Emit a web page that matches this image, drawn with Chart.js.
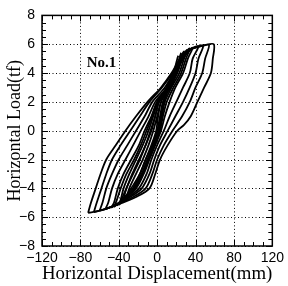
<!DOCTYPE html>
<html>
<head>
<meta charset="utf-8">
<script src="https://cdn.jsdelivr.net/npm/chart.js@4/dist/chart.umd.min.js"></script>
<style>
  html, body { margin: 0; padding: 0; background: #fff; }
  #wrap { width: 288px; height: 286px; }
</style>
</head>
<body>
<div id="wrap"><canvas id="chart" width="288" height="286"></canvas></div>
<script>
// axis ranges and tick labels
var xTicks = [-120, -80, -40, 0, 40, 80, 120];
var yTicks = [-8, -6, -4, -2, 0, 2, 4, 6, 8];

// hysteresis loops, [displacement(mm), load(tf)], smallest to largest
var loop1 = [[-36,-5],[-32,-4],[-25,-3],[-18,-2],[-12,-1],[-6,0],[-2,1],[2,2],[14,3],[20,4],[23,5],[25,5.4],
  [23,5],[19,4],[12,3],[6,2],[3,1],[0,0],[-5,-1],[-12,-2],[-18,-3],[-27,-4],[-33,-4.6],[-36,-5]];
var loop1b = [[-33,-4.9],[-29,-4],[-22,-3],[-15,-2],[-9,-1],[-4,0],[0,1],[4,2],[13,3],[18,4],[21,5],[22,5.2],
  [21,5],[17,4],[10,3],[4,2],[1,1],[-1,0],[-6,-1],[-12,-2],[-18,-3],[-25,-4],[-30,-4.5],[-33,-4.9]];
var loop2 = [[-42,-5.2],[-39,-5],[-35,-4],[-29,-3],[-22,-2],[-15,-1],[-9,0],[-4,1],[1,2],[13,3],[20,4],[26,5],[31,5.6],
  [28,5],[23,4],[15,3],[8,2],[5,1],[2,0],[-3,-1],[-10,-2],[-16,-3],[-25,-4],[-36,-4.75],[-42,-5.2]];
var loop2b = [[-39,-5.1],[-36,-4.6],[-32,-4],[-26,-3],[-19,-2],[-12,-1],[-7,0],[-2,1],[2,2],[12,3],[19,4],[24,5],[28,5.5],
  [26,5],[21,4],[13,3],[7,2],[4,1],[1,0],[-4,-1],[-10,-2],[-16,-3],[-24,-4],[-34,-4.7],[-39,-5.1]];
var loop3 = [[-48,-5.35],[-45,-5],[-41,-4],[-35,-3],[-27,-2],[-19,-1],[-13,0],[-6,1],[0,2],[12,3],[19,4],[27,5],[33,5.55],[37,5.75],
  [32,5],[27,4],[19,3],[13,2],[8,1],[4,0],[-2,-1],[-8,-2],[-14,-3],[-22,-4],[-34,-4.7],[-48,-5.35]];
var loop3b = [[-45,-5.3],[-42,-4.8],[-38,-4],[-32,-3],[-24,-2],[-17,-1],[-11,0],[-5,1],[0,2],[11,3],[18,4],[25,5],[30,5.5],[34,5.7],
  [30,5],[25,4],[17,3],[10,2],[6,1],[3,0],[-3,-1],[-9,-2],[-15,-3],[-23,-4],[-34,-4.7],[-45,-5.3]];
var loop4 = [[-54,-5.45],[-51,-5],[-47,-4],[-41,-3],[-33,-2],[-25,-1],[-17,0],[-9,1],[-2,2],[10,3],[18,4],[27,5],[35,5.65],[43,5.85],
  [37,5],[34,4],[27,3],[20,2],[13,1],[7,0],[0,-1],[-6,-2],[-11,-3],[-19,-4],[-31,-4.65],[-43,-5.15],[-54,-5.45]];
var loop5 = [[-60,-5.55],[-57,-5],[-53,-4],[-47,-3],[-40,-2],[-31,-1],[-22,0],[-13,1],[-5,2],[8,3],[17,4],[26,5],[34,5.6],[41,5.8],[48,5.9],
  [43,5],[40,4],[34,3],[27,2],[19,1],[11,0],[3,-1],[-3,-2],[-8,-3],[-16,-4],[-28,-4.6],[-42,-5.1],[-52,-5.4],[-60,-5.55]];
var loop6 = [[-66,-5.65],[-63,-5],[-58,-4],[-53,-3],[-47,-2],[-38,-1],[-28,0],[-18,1],[-8,2],[5,3],[16,4],[25,5],[35,5.65],[45,5.85],[54,5.95],
  [50,5],[47,4],[40,3],[34,2],[26,1],[16,0],[7,-1],[0,-2],[-5,-3],[-12,-4],[-25,-4.6],[-41,-5.1],[-55,-5.45],[-66,-5.65]];
var loop7 = [[-72,-5.7],[-69,-5],[-64,-4],[-59,-3],[-53,-2],[-43,-1],[-33,0],[-22,1],[-10,2],[4,3],[15,4],[24,5],[36,5.7],[48,5.9],[59,6],
  [58,5],[56,4],[49,3],[42,2],[35,1],[28,0.4],[21,0],[11,-1],[3,-2],[-2,-3],[-8,-4],[-22,-4.6],[-40,-5.1],[-57,-5.5],[-72,-5.7]];

var loops = [loop1, loop1b, loop2, loop2b, loop3, loop3b, loop4, loop5, loop6, loop7];
var specimen = "No.1";

function toPoints(arr) {
  return arr.map(function (p) { return { x: p[0], y: p[1] }; });
}

function minus(v) {
  return v < 0 ? "\u2212" + Math.abs(v) : String(v);
}

/**
 * Dotted grid behind the loops.
 */
var gridPlugin = {
  id: "dotgrid",
  beforeDatasetsDraw: function (chart) {
    var ctx = chart.ctx;
    var a = chart.chartArea;
    var xs = chart.scales.x;
    var ys = chart.scales.y;
    ctx.save();
    ctx.strokeStyle = "#000";
    ctx.lineWidth = 1;
    ctx.setLineDash([1, 2.5]);
    ctx.beginPath();
    xTicks.forEach(function (v) {
      var px = Math.round(xs.getPixelForValue(v)) + 0.5;
      ctx.moveTo(px, a.top); ctx.lineTo(px, a.bottom);
    });
    yTicks.forEach(function (v) {
      var py = Math.round(ys.getPixelForValue(v)) + 0.5;
      ctx.moveTo(a.left, py); ctx.lineTo(a.right, py);
    });
    ctx.stroke();
    ctx.restore();
  }
};

/**
 * Draws the closed frame, inward ticks on all sides and the specimen label.
 */
var framePlugin = {
  id: "frame",
  afterDraw: function (chart) {
    var ctx = chart.ctx;
    var a = chart.chartArea;
    var xs = chart.scales.x;
    var ys = chart.scales.y;
    ctx.save();
    ctx.strokeStyle = "#000";
    ctx.lineWidth = 1;
    ctx.beginPath();
    var v, px, len;
    for (v = -120; v <= 120; v += 10) {
      px = Math.round(xs.getPixelForValue(v)) + 0.5;
      len = (v % 40 === 0) ? 6 : 4;
      ctx.moveTo(px, a.bottom); ctx.lineTo(px, a.bottom - len);
      ctx.moveTo(px, a.top); ctx.lineTo(px, a.top + len);
    }
    for (v = -8; v <= 8; v += 0.5) {
      px = Math.round(ys.getPixelForValue(v)) + 0.5;
      len = (v % 2 === 0) ? 6 : 4;
      ctx.moveTo(a.left, px); ctx.lineTo(a.left + len, px);
      ctx.moveTo(a.right, px); ctx.lineTo(a.right - len, px);
    }
    ctx.stroke();
    ctx.lineWidth = 1.5;
    ctx.strokeRect(a.left, a.top, a.right - a.left, a.bottom - a.top);
    ctx.fillStyle = "#000";
    ctx.font = "bold 15px 'Liberation Serif'";
    ctx.textAlign = "center";
    ctx.textBaseline = "middle";
    ctx.fillText(specimen, xs.getPixelForValue(-58), ys.getPixelForValue(4.7));
    ctx.restore();
  }
};

var datasets = loops.map(function (l) {
  return {
    data: toPoints(l),
    showLine: true,
    borderColor: "#000",
    borderWidth: 1.8,
    pointRadius: 0,
    tension: 0.3,
    fill: false
  };
});

var chart = new Chart(document.getElementById("chart"), {
  type: "scatter",
  data: { datasets: datasets },
  options: {
    responsive: false,
    animation: false,
    events: [],
    layout: { padding: { top: 12, right: 12, left: 0, bottom: 0 } },
    plugins: { legend: { display: false }, tooltip: { enabled: false } },
    scales: {
      x: {
        type: "linear",
        min: -120,
        max: 120,
        afterBuildTicks: function (s) { s.ticks = xTicks.map(function (v) { return { value: v }; }); },
        afterFit: function (s) { s.height = 40; },
        grid: { display: false, drawTicks: false },
        border: { display: false },
        ticks: {
          color: "#000",
          padding: 4,
          maxRotation: 0,
          font: { family: "'Liberation Sans'", size: 14 },
          callback: function (v) { return minus(v); }
        },
        title: {
          display: true,
          text: "Horizontal Displacement(mm)",
          color: "#000",
          padding: { top: 0, bottom: 1 },
          font: { family: "'Liberation Serif'", size: 19 }
        }
      },
      y: {
        type: "linear",
        min: -8,
        max: 8,
        afterBuildTicks: function (s) { s.ticks = yTicks.map(function (v) { return { value: v }; }); },
        afterFit: function (s) { s.width = 42; },
        grid: { display: false, drawTicks: false },
        border: { display: false },
        ticks: {
          color: "#000",
          padding: 7,
          font: { family: "'Liberation Sans'", size: 14 },
          callback: function (v) { return minus(v); }
        },
        title: {
          display: true,
          text: "Horizontal Load(tf)",
          color: "#000",
          padding: { top: 4, bottom: 0 },
          font: { family: "'Liberation Serif'", size: 18 }
        }
      }
    }
  },
  plugins: [gridPlugin, framePlugin]
});
</script>
</body>
</html>
